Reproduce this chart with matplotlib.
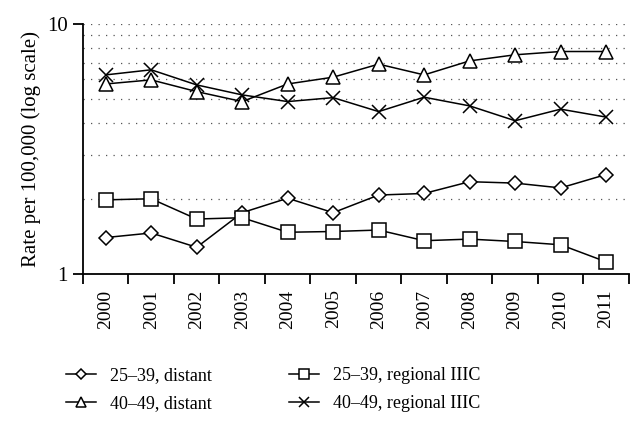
import numpy as np
import matplotlib
matplotlib.use("Agg")
import matplotlib.pyplot as plt
from matplotlib.ticker import FixedLocator, NullFormatter

plt.rcParams['font.family'] = ['Liberation Serif', 'DejaVu Serif']

years = [str(y) for y in range(2000, 2012)]
young_distant = [1.40, 1.46, 1.28, 1.76, 2.01, 1.76, 2.07, 2.10, 2.34, 2.31, 2.21, 2.50]
young_regional = [1.98, 2.00, 1.66, 1.68, 1.47, 1.48, 1.50, 1.36, 1.38, 1.35, 1.31, 1.12]
older_distant = [5.75, 5.97, 5.36, 4.89, 5.75, 6.12, 6.90, 6.25, 7.11, 7.52, 7.75, 7.75]
older_regional = [6.25, 6.55, 5.70, 5.20, 4.89, 5.07, 4.46, 5.09, 4.70, 4.10, 4.56, 4.24]

fig = plt.figure(figsize=(6.43, 4.25), dpi=100)
ax = fig.add_axes([0.129, 0.355, 0.849, 0.589])

x = np.arange(len(years))
style = dict(color='black', linewidth=1.1, markerfacecolor='white', markeredgecolor='black',
             markeredgewidth=1.1)
l1, = ax.plot(x, young_distant, marker='D', markersize=7.5, label='25–39, distant', **style)
l2, = ax.plot(x, older_distant, marker='^', markersize=10, label='40–49, distant', **style)
l3, = ax.plot(x, young_regional, marker='s', markersize=10, label='25–39, regional IIIC', **style)
l4, = ax.plot(x, older_regional, marker='x', markersize=10, label='40–49, regional IIIC', **style)

ax.set_yscale('log')
ax.set_ylim(1, 10)
ax.set_xlim(-0.5, len(years) - 0.5)

# y axis: only 1 and 10 labelled, dotted grid at every minor step
ax.yaxis.set_major_locator(FixedLocator([1, 10]))
ax.set_yticklabels(['1', '10'])
ax.yaxis.set_minor_locator(FixedLocator([2, 3, 4, 5, 6, 7, 8, 9]))
ax.yaxis.set_minor_formatter(NullFormatter())
ax.tick_params(axis='y', which='minor', length=0)
ax.tick_params(axis='y', which='major', length=7, width=1.3, labelsize=15, pad=4)
ax.grid(True, axis='y', which='both', linestyle=(0, (1, 5)), color='#555555', linewidth=0.9)

# x axis: labels at centers, ticks at boundaries
ax.set_xticks(x)
ax.set_xticklabels(years, rotation=90, fontsize=14)
ax.tick_params(axis='x', which='major', length=0, pad=11)
ax.set_xticks(np.arange(-0.5, len(years)), minor=True)
ax.tick_params(axis='x', which='minor', length=7, width=1.3)

ax.spines['top'].set_visible(False)
ax.spines['right'].set_visible(False)
ax.spines['left'].set_linewidth(1.3)
ax.spines['bottom'].set_linewidth(1.3)

ax.set_ylabel('Rate per 100,000 (log scale)', fontsize=15, labelpad=4)

fig.legend(handles=[l1, l2, l3, l4], ncol=2, loc='upper left',
           bbox_to_anchor=(0.078, 0.175), frameon=False, fontsize=13,
           handlelength=1.65, columnspacing=4.3, labelspacing=0.62,
           handletextpad=0.75, markerscale=0.65)

fig.savefig('out.png', dpi=100)
